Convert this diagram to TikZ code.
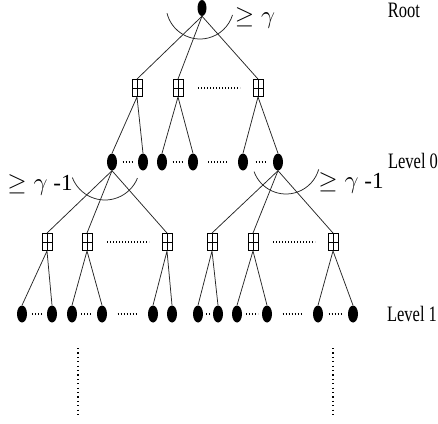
\documentclass[tikz,border=0pt]{standalone}
\usepackage{fontspec}
\setmainfont{Liberation Serif}
\usetikzlibrary{shapes.geometric,calc}
\tikzset{
  leaf/.style={ellipse, fill=black, draw=none, inner sep=0pt, minimum width=10pt, minimum height=17pt},
  sq/.style={draw, line width=0.9pt, inner sep=0pt, minimum width=10pt, minimum height=17pt,
    path picture={\draw[line width=0.8pt] (path picture bounding box.north) -- (path picture bounding box.south)
      (path picture bounding box.west) -- (path picture bounding box.east);}},
  edge/.style={line width=0.75pt, black!85},
  dots/.style={line width=1.1pt, dash pattern=on 1pt off 2pt},
  vdots/.style={line width=1.2pt, dash pattern=on 1.2pt off 3.2pt},
  lbl/.style={font=\fontsize{22}{26}\selectfont, inner sep=0pt},
  mlbl/.style={font=\fontsize{23}{27}\selectfont, inner sep=0pt}
}
\begin{document}
\begin{tikzpicture}[x=1pt,y=1pt]
\useasboundingbox (0,0) rectangle (438,-423);
% root
\node[leaf, minimum width=9pt, minimum height=16pt] (root) at (202,-8) {};
% top squares
\node[sq] (s1) at (137,-88) {};
\node[sq] (s2) at (178,-88) {};
\node[sq] (s3) at (258,-88) {};
% level 0
\node[leaf] (a1) at (112,-162) {};
\node[leaf] (a2) at (143,-162) {};
\node[leaf] (a3) at (162,-162) {};
\node[leaf] (a4) at (193,-162) {};
\node[leaf] (a5) at (243,-162) {};
\node[leaf] (a6) at (278,-162) {};
% level 1 squares
\node[sq] (b1) at (47,-242) {};
\node[sq] (b2) at (87,-242) {};
\node[sq] (b3) at (167,-242) {};
\node[sq] (b4) at (212,-242) {};
\node[sq] (b5) at (253,-242) {};
\node[sq] (b6) at (333,-242) {};
% level 1 leaves
\foreach \i/\x in {1/22,2/52,3/72,4/102,5/153,6/172,7/198,8/218,9/237,10/267,11/318,12/353}
  \node[leaf] (c\i) at (\x,-314) {};
% edges
\foreach \s in {s1,s2,s3} \draw[edge] (root.south) -- (\s.north);
\draw[edge] (s1.south) -- (a1.north) (s1.south) -- (a2.north);
\draw[edge] (s2.south) -- (a3.north) (s2.south) -- (a4.north);
\draw[edge] (s3.south) -- (a5.north) (s3.south) -- (a6.north);
\foreach \s in {b1,b2,b3} \draw[edge] (a1.south) -- (\s.north);
\foreach \s in {b4,b5,b6} \draw[edge] (a6.south) -- (\s.north);
\draw[edge] (b1.south) -- (c1.north) (b1.south) -- (c2.north);
\draw[edge] (b2.south) -- (c3.north) (b2.south) -- (c4.north);
\draw[edge] (b3.south) -- (c5.north) (b3.south) -- (c6.north);
\draw[edge] (b4.south) -- (c7.north) (b4.south) -- (c8.north);
\draw[edge] (b5.south) -- (c9.north) (b5.south) -- (c10.north);
\draw[edge] (b6.south) -- (c11.north) (b6.south) -- (c12.north);
% arcs
\draw[edge] (200,-5) ++(194:34) arc[start angle=194, end angle=343, radius=34];
\draw[edge] (105,-165) ++(201:35) arc[start angle=201, end angle=338, radius=35];
\draw[edge] (286,-160) ++(200:34) arc[start angle=200, end angle=344, radius=34];
% dotted gaps
\draw[dots] ($(s2)!.5!(s3)+(-20,0)$) -- ++(42,0);
\draw[dots] ($(b2)!.5!(b3)+(-20,0)$) -- ++(42,0);
\draw[dots] ($(b5)!.5!(b6)+(-20,0)$) -- ++(42,0);
\draw[dots] ($(a1)!.5!(a2)+(-5,0)$) -- ++(10,0);
\draw[dots] ($(a3)!.5!(a4)+(-5,0)$) -- ++(10,0);
\draw[dots] ($(a4)!.5!(a5)+(-10,0)$) -- ++(20,0);
\draw[dots] ($(a5)!.5!(a6)+(-5,0)$) -- ++(10,0);
\draw[dots] ($(c1)!.5!(c2)+(-5,0)$) -- ++(10,0);
\draw[dots] ($(c3)!.5!(c4)+(-6,0)$) -- ++(12,0);
\draw[dots] ($(c4)!.5!(c5)+(-10,0)$) -- ++(20,0);
\draw[dots] ($(c7)!.5!(c8)+(-2,0)$) -- ++(4,0);
\draw[dots] ($(c9)!.5!(c10)+(-6,0)$) -- ++(12,0);
\draw[dots] ($(c10)!.5!(c11)+(-10,0)$) -- ++(20,0);
\draw[dots] ($(c11)!.5!(c12)+(-7,0)$) -- ++(14,0);
% vertical continuation dots
\coordinate (v1a) at (78,-348); \coordinate (v1b) at (78,-416);
\coordinate (v2a) at (333,-348); \coordinate (v2b) at (333,-416);
\draw[vdots] (v1a) -- (v1b);
\draw[vdots] (v2a) -- (v2b);
% labels
\node[mlbl] (g0) at (255,-18) {$\geq\gamma$};
\node[mlbl] (g1) at (40,-185) {$\geq\gamma$ -1};
\node[mlbl] (g2) at (351,-183) {$\geq\gamma$ -1};
\node[lbl] (lr) at (404,-10) {\scalebox{0.75}[1]{Root}};
\node[lbl] (l0) at (413,-161) {\scalebox{0.75}[1]{Level 0}};
\node[lbl] (l1) at (412,-314) {\scalebox{0.75}[1]{Level 1}};
\end{tikzpicture}
\end{document}
